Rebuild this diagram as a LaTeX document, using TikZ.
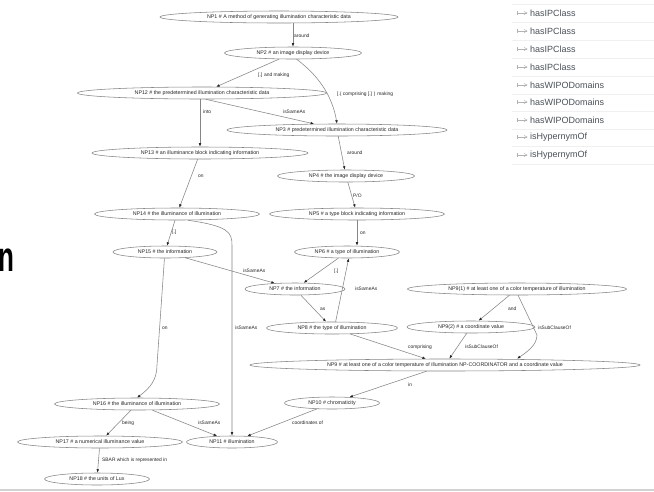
\documentclass[tikz,border=0pt]{standalone}
\usepackage{fontspec}
\setmainfont{Liberation Sans}
\usetikzlibrary{shapes.geometric,arrows.meta}

\definecolor{nodeline}{HTML}{858585}
\definecolor{edgeline}{HTML}{858585}
\definecolor{nodetext}{HTML}{262626}
\definecolor{listtext}{HTML}{4A5159}

\tikzset{
  np/.style={ellipse, draw=nodeline, line width=0.55pt, fill=white, inner sep=0pt,
    minimum height=12pt, text=nodetext, font=\fontsize{5.3}{6}\selectfont},
  rel/.style={draw=edgeline, line width=0.55pt,
    -{Latex[length=3.5pt,width=2.6pt,color=black!85]}},
  lbl/.style={anchor=west, inner sep=0pt, text=nodetext, font=\fontsize{4.9}{5}\selectfont},
  listitem/.style={anchor=west, inner sep=0pt, text=listtext, font=\fontsize{9}{10}\selectfont},
  listicon/.style={draw=gray!60, line width=0.5pt}
}

\begin{document}
\begin{tikzpicture}[x=1pt,y=-1pt]
\useasboundingbox (0,0) rectangle (654,491);
\fill[white] (0,0) rectangle (654,491);

% cut-off heading letter on the left
\node[inner sep=0pt, font=\fontsize{42}{42}\selectfont\bfseries, xscale=0.62] (cut) at (6.5,260) {n};

% ---------- nodes ----------
\node[np, minimum width=238pt] (np1) at (279,17) {NP1 \# A method of generating illumination characteristic data};
\node[np, minimum width=137pt] (np2) at (293,53) {NP2 \# an image display device};
\node[np, minimum width=249pt] (np12) at (202,93) {NP12 \# the predetermined illumination characteristic data};
\node[np, minimum width=220pt] (np3) at (337,130) {NP3 \# predetermined illumination characteristic data};
\node[np, minimum width=216pt] (np13) at (200,153) {NP13 \# an illuminance block indicating information};
\node[np, minimum width=137pt] (np4) at (346,176) {NP4 \# the image display device};
\node[np, minimum width=175pt] (np5) at (357,214) {NP5 \# a type block indicating information};
\node[np, minimum width=165pt] (np14) at (177,214) {NP14 \# the illuminance of illumination};
\node[np, minimum width=105pt] (np6) at (347,252) {NP6 \# a type of illumination};
\node[np, minimum width=104pt] (np15) at (165,252) {NP15 \# the information};
\node[np, minimum width=100pt] (np7) at (295,289) {NP7 \# the information};
\node[np, minimum width=131pt] (np8) at (332,328) {NP8 \# the type of illumination};
\node[np, minimum width=219pt] (np91) at (517,289) {NP9(1) \# at least one of a color temperature of illumination};
\node[np, minimum width=128pt] (np92) at (471,327) {NP9(2) \# a coordinate value};
\node[np, minimum width=390pt] (np9) at (445,365) {NP9 \# at least one of a color temperature of illumination NP-COORDINATOR and a coordinate value};
\node[np, minimum width=95pt] (np10) at (332,403) {NP10 \# chromaticity};
\node[np, minimum width=165pt] (np16) at (137,404) {NP16 \# the illuminance of illumination};
\node[np, minimum width=91pt] (np11) at (232,442) {NP11 \# illumination};
\node[np, minimum width=165pt] (np17) at (100,442) {NP17 \# a numerical illuminance value};
\node[np, minimum width=105pt] (np18) at (97,479) {NP18 \# the units of Lux};

% ---------- connectors ----------
\draw[rel] (np1.south -| np2.north) -- (np2.north);
\draw[rel] (np2) -- (np12);
\draw[rel] (np2.-60) .. controls (322,78) and (333,100) .. (np3.north);
\draw[rel] (np12.south -| np13.north) -- (np13.north);
\draw[rel] (np12.-60) -- (np3.165);
\draw[rel] (np3) -- (np4);
\draw[rel] (np4) -- (np5);
\draw[rel] (np13) -- (np14);
\draw[rel] (np5.south) -- (np6.north -| np5.south);
\draw[rel] (np14) -- (np15);
\draw[rel] (np14.-30) .. controls (228,226) and (232,232) .. (232,245) -- (np11.north);
\draw[rel] (np15) -- (np7);
\draw[rel] (np6) -- (np7);
\draw[rel] (np7) -- (np8);
\draw[rel] (np8.60) -- (np6.-75);
\draw[rel] (np15.-95) -- (157,365) .. controls (157,380) and (150,388) .. (np16.north);
\draw[rel] (np8) -- (np9);
\draw[rel] (np91) -- (np92);
\draw[rel] (np91.-80) -- (537,335) .. controls (537,345) and (527,352) .. (np9.north -| 517,0);
\draw[rel] (np92) -- (np9);
\draw[rel] (np9) -- (np10);
\draw[rel] (np10) -- (np11);
\draw[rel] (np16) -- (np11);
\draw[rel] (np16) -- (np17);
\draw[rel] (np17) -- (np18);

% ---------- connector labels ----------
\node[lbl] (l1) at (294,36) {around};
\node[lbl] (l2) at (258,75) {[.] and making};
\node[lbl] (l3) at (337,94) {[.( comprising [.] ) making};
\node[lbl] (l4) at (203,112) {into};
\node[lbl] (l5) at (283,112) {isSameAs};
\node[lbl] (l6) at (347,153) {around};
\node[lbl] (l7) at (353,196) {P/O};
\node[lbl] (l8) at (198,176) {on};
\node[lbl] (l9) at (360,233) {on};
\node[lbl] (l10) at (172,232) {[.]};
\node[lbl] (l11) at (235,328) {isSameAs};
\node[lbl] (l12) at (243,271) {isSameAs};
\node[lbl] (l13) at (334,271) {[.]};
\node[lbl] (l14) at (320,309) {as};
\node[lbl] (l15) at (355,289) {isSameAs};
\node[lbl] (l16) at (162,328) {on};
\node[lbl] (l17) at (408,347) {comprising};
\node[lbl] (l18) at (508,309) {and};
\node[lbl] (l19) at (538,328) {isSubClauseOf};
\node[lbl] (l20) at (465,347) {isSubClauseOf};
\node[lbl] (l21) at (408,385) {in};
\node[lbl] (l22) at (292,423) {coordinates of};
\node[lbl] (l23) at (198,423) {isSameAs};
\node[lbl] (l24) at (122,423) {being};
\node[lbl] (l25) at (102,460) {SBAR which is represented in};

% ---------- relation list ----------
\foreach \yy/\name [count=\i] in {13/hasIPClass,31/hasIPClass,49/hasIPClass,67/hasIPClass,
    85/hasWIPODomains,102/hasWIPODomains,120/hasWIPODomains,137/isHypernymOf,155/isHypernymOf}{
  \draw[gray!12] (512,\yy+9) -- (654,\yy+9);
  \draw[listicon] (517,\yy-2) -- (517,\yy+2) (517,\yy) -- (527,\yy);
  \draw[listicon] (524,\yy-1.6) -- (527,\yy) -- (524,\yy+1.6);
  \node[listitem] (item\i) at (530,\yy) {\name};
}
\draw[gray!12] (512,4) -- (654,4);

% bottom edge strip
\fill[gray!35] (0,488.5) rectangle (654,491);
\end{tikzpicture}
\end{document}
